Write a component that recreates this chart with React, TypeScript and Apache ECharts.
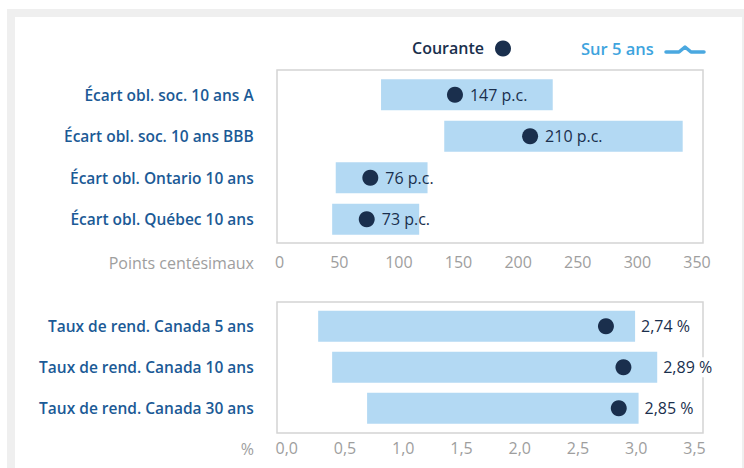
import React, { useEffect, useRef } from "react";
import * as echarts from "echarts";

const spreadCats = [
  "Écart obl. soc. 10 ans A",
  "Écart obl. soc. 10 ans BBB",
  "Écart obl. Ontario 10 ans",
  "Écart obl. Québec 10 ans",
];
const spreadMin = [85, 138, 47, 44];
const spreadMax = [229, 338, 124, 117];
const spreadCur = [147, 210, 76, 73];
const spreadTicks = { min: 0, max: 350, interval: 50 };

const yieldCats = [
  "Taux de rend. Canada 5 ans",
  "Taux de rend. Canada 10 ans",
  "Taux de rend. Canada 30 ans",
];
const yieldMin = [0.27, 0.39, 0.69];
const yieldMax = [2.99, 3.18, 3.02];
const yieldCur = [2.74, 2.89, 2.85];
const yieldTicks = { min: 0, max: 3.5, interval: 0.5 };

const FONT = "Open Sans";
const NAVY = "#1a2f4d";
const BLUE_LABEL = "#1b5a96";
const BAR = "#b3d9f3";
const GRAY = "#9e9e9e";
const LEGEND_BLUE = "#3ea4de";

const fr = (v: number, d: number) => v.toFixed(d).replace(".", ",");

export default function App() {
  const ref = useRef<HTMLDivElement>(null);
  useEffect(() => {
    document.body.style.margin = "0";
    const chart = echarts.init(ref.current!, undefined, { renderer: "svg" });
    const catAxis = (idx: number, cats: string[], margin: number) => ({
      type: "category",
      gridIndex: idx,
      data: cats,
      inverse: true,
      axisLine: { show: false },
      axisTick: { show: false },
      axisLabel: {
        color: BLUE_LABEL,
        fontFamily: FONT,
        fontWeight: 600,
        fontSize: 15.5,
        margin,
      },
    });
    const valAxis = (idx: number, t: any, fmt: (v: number) => string, margin: number) => ({
      type: "value",
      gridIndex: idx,
      min: t.min,
      max: t.max,
      interval: t.interval,
      axisLine: { show: false },
      axisTick: { show: false },
      splitLine: { show: false },
      axisLabel: {
        color: GRAY,
        fontFamily: FONT,
        fontSize: 16,
        margin,
        formatter: fmt,
      },
    });
    chart.setOption({
      animation: false,
      textStyle: { fontFamily: FONT },
      grid: [
        { left: 279.7, width: 417.3, top: 74, height: 166 },
        { left: 286.7, width: 407.8, top: 305.8, height: 123 },
      ],
      xAxis: [
        valAxis(0, spreadTicks, (v: number) => String(v), 14),
        valAxis(1, yieldTicks, (v: number) => fr(v, 1), 11),
      ],
      yAxis: [catAxis(0, spreadCats, 26), catAxis(1, yieldCats, 33)],
      graphic: [
        { type: "rect", z: -10, shape: { x: 7, y: 9, width: 737, height: 459 }, style: { fill: "#efefef" } },
        { type: "rect", z: -9, shape: { x: 15, y: 17, width: 727, height: 451 }, style: { fill: "#ffffff" } },
        { type: "rect", z: -8, shape: { x: 277, y: 70, width: 426, height: 173 }, style: { fill: "none", stroke: "#d4d4d4", lineWidth: 1.5 } },
        { type: "rect", z: -8, shape: { x: 277, y: 302, width: 426, height: 131 }, style: { fill: "none", stroke: "#d4d4d4", lineWidth: 1.5 } },
        { type: "text", x: 254, y: 263, style: { text: "Points centésimaux", fill: GRAY, font: `16px '${FONT}'`, align: "right", verticalAlign: "middle" } },
        { type: "text", x: 254, y: 449, style: { text: "%", fill: GRAY, font: `16px '${FONT}'`, align: "right", verticalAlign: "middle" } },
        { type: "text", x: 484, y: 48, style: { text: "Courante", fill: NAVY, font: `600 16px '${FONT}'`, align: "right", verticalAlign: "middle" } },
        { type: "circle", shape: { cx: 503, cy: 48.5, r: 8 }, style: { fill: NAVY } },
        { type: "text", x: 581, y: 48, style: { text: "Sur 5 ans", fill: LEGEND_BLUE, font: `600 16.5px '${FONT}'`, align: "left", verticalAlign: "middle" } },
        {
          type: "polyline",
          shape: { points: [[666, 52], [679, 52], [685, 47], [691, 52], [704, 52]] },
          style: { stroke: "#4aa8e0", lineWidth: 3.5, lineCap: "round", lineJoin: "round", fill: "none" },
        },
      ],
      series: [
        {
          type: "bar", xAxisIndex: 0, yAxisIndex: 0, stack: "s", barWidth: 31, silent: true,
          itemStyle: { color: "transparent" }, data: spreadMin,
        },
        {
          type: "bar", xAxisIndex: 0, yAxisIndex: 0, stack: "s", barWidth: 31, name: "Sur 5 ans",
          itemStyle: { color: BAR }, data: spreadMax.map((v, i) => v - spreadMin[i]),
        },
        {
          type: "scatter", xAxisIndex: 0, yAxisIndex: 0, name: "Courante", symbolSize: 16,
          itemStyle: { color: NAVY, opacity: 1 },
          data: spreadCur.map((v, i) => [v, spreadCats[i]]),
          label: {
            show: true, position: "right", distance: 7, color: NAVY, fontFamily: FONT, fontSize: 16,
            fontWeight: 500,
            formatter: (p: any) => `${p.value[0]} p.c.`,
          },
        },
        {
          type: "bar", xAxisIndex: 1, yAxisIndex: 1, stack: "y", barWidth: 31, silent: true,
          itemStyle: { color: "transparent" }, data: yieldMin,
        },
        {
          type: "bar", xAxisIndex: 1, yAxisIndex: 1, stack: "y", barWidth: 31, name: "Sur 5 ans",
          itemStyle: { color: BAR }, data: yieldMax.map((v, i) => +(v - yieldMin[i]).toFixed(2)),
          label: {
            show: true, position: "right", distance: 3, color: NAVY, fontFamily: FONT, fontSize: 16,
            fontWeight: 500,
            backgroundColor: "#ffffff", padding: [2, 3],
            formatter: (p: any) => `${fr(yieldCur[p.dataIndex], 2)} %`,
          },
        },
        {
          type: "scatter", xAxisIndex: 1, yAxisIndex: 1, name: "Courante", symbolSize: 16,
          itemStyle: { color: NAVY, opacity: 1 },
          data: yieldCur.map((v, i) => [v, yieldCats[i]]),
        },
      ],
    });
    return () => chart.dispose();
  }, []);
  return <div ref={ref} style={{ width: 744, height: 468 }} />;
}
